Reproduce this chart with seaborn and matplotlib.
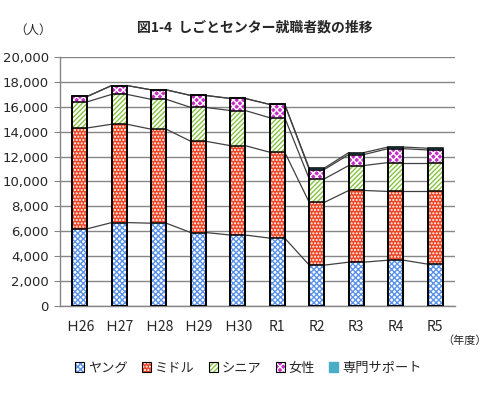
import numpy as np
import pandas as pd
import seaborn as sns
import matplotlib.pyplot as plt
from matplotlib.patches import Patch

years = ['Ｈ26', 'Ｈ27', 'Ｈ28', 'Ｈ29', 'Ｈ30', 'R1', 'R2', 'R3', 'R4', 'R5']
series = ['ヤング', 'ミドル', 'シニア', '女性', '専門サポート']
young = [6200, 6700, 6650, 5900, 5700, 5450, 3280, 3520, 3680, 3360]
middle = [8100, 7900, 7550, 7330, 7180, 6900, 5040, 5760, 5520, 5840]
senior = [2100, 2400, 2400, 2720, 2820, 2770, 1890, 2000, 2320, 2320]
women = [430, 710, 760, 960, 970, 1070, 750, 880, 1120, 1010]
support = [0, 0, 0, 0, 0, 0, 110, 160, 130, 140]

# face colour, hatch colour, hatch
styles = {
    'ヤング': ('white', '#5b93ea', 'xxxxxx'),
    'ミドル': ('#ee4424', 'white', '.....'),
    'シニア': ('white', '#86c440', '///////'),
    '女性': ('#c62fc6', 'white', 'xxxxx'),
    '専門サポート': ('#4bacc6', '#4bacc6', ''),
}

sns.set_style('white')
plt.rcParams['font.family'] = ['Noto Sans CJK JP', 'DejaVu Sans']
plt.rcParams['hatch.linewidth'] = 1.0

df = pd.DataFrame({'year': years, 'ヤング': young, 'ミドル': middle,
                   'シニア': senior, '女性': women, '専門サポート': support})
cum = df[series].cumsum(axis=1)
cum['year'] = years

fig = plt.figure(figsize=(4.9, 3.98), dpi=100)
ax = fig.add_axes([0.1224, 0.2312, 0.8062, 0.6256])

w = 0.38
# fills: tallest first, each shorter cumulative bar covers the lower part
for s in reversed(series):
    face, hcol, hatch = styles[s]
    sns.barplot(data=cum, x='year', y=s, ax=ax, color=face, width=w,
                hatch=hatch, edgecolor=hcol, linewidth=0, saturation=1, zorder=3)
# outlines
for s in reversed(series):
    sns.barplot(data=cum, x='year', y=s, ax=ax, fill=False, width=w,
                edgecolor='black', linewidth=1.1, zorder=4)

# series lines between bar tops
x = np.arange(len(years))
for s in series:
    top = cum[s].values
    for i in range(len(years) - 1):
        ax.plot([x[i] + w / 2, x[i + 1] - w / 2], [top[i], top[i + 1]],
                color='#404040', lw=0.9, zorder=2)

ax.set_xlim(-0.5, 9.5)
ax.set_ylim(0, 20000)
ax.set_yticks(range(0, 20001, 2000))
ax.set_yticklabels([f'{v:,}' for v in range(0, 20001, 2000)], fontsize=9.5,
                   family='DejaVu Sans')
ax.set_xticks(x)
ax.set_xticklabels(years, fontsize=10)
ax.tick_params(axis='x', length=0, pad=10)
ax.tick_params(axis='y', length=4, color='#868686', direction='out', left=True, pad=4)
ax.grid(axis='y', color='#868686', lw=1, zorder=0)
ax.set_axisbelow(True)
for sp in ['top', 'right']:
    ax.spines[sp].set_visible(False)
for sp in ['left', 'bottom']:
    ax.spines[sp].set_color('#868686')
    ax.spines[sp].set_linewidth(1)
ax.set_xlabel('')
ax.set_ylabel('')

fig.text(0.52, 0.932, '図1-4  しごとセンター就職者数の推移', ha='center', va='center',
         fontsize=10, fontweight='bold')
fig.text(0.068, 0.925, '（人）', ha='center', va='center', fontsize=9)
fig.text(0.948, 0.143, '（年度）', ha='center', va='center', fontsize=8)

handles = []
for s in series:
    face, hcol, hatch = styles[s]
    if s == '専門サポート':
        handles.append(Patch(facecolor=face, edgecolor=face))
    else:
        handles.append((Patch(facecolor=face, hatch=hatch, edgecolor=hcol, lw=0),
                        Patch(fill=False, edgecolor='black', lw=0.8)))
fig.legend(handles, series, loc='center', bbox_to_anchor=(0.507, 0.075), ncol=5,
           frameon=False, fontsize=9.5, handlelength=0.7, handleheight=0.7,
           handletextpad=0.3, columnspacing=1.05)

fig.savefig('out.png', dpi=100)
